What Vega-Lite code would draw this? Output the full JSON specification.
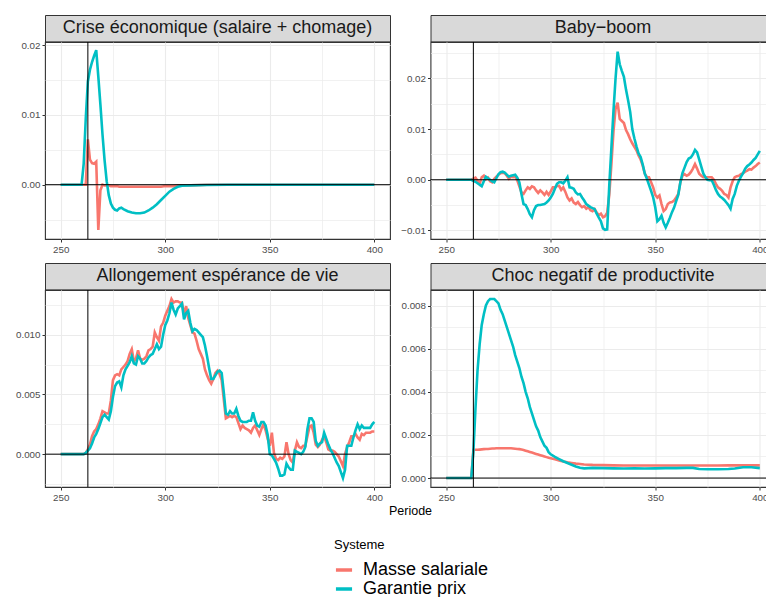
{
  "$schema": "https://vega.github.io/schema/vega-lite/v6.json",
  "padding": {"left": 14, "top": 14, "right": 0, "bottom": 0},
  "datasets": {
    "panels": [
      {"panel": "crise", "titre": "Crise économique (salaire + chomage)"},
      {"panel": "baby", "titre": "Baby−boom"},
      {"panel": "vie", "titre": "Allongement espérance de vie"},
      {"panel": "choc", "titre": "Choc negatif de productivite"}
    ],
    "series": [
      {"panel":"crise","periode":250,"Masse salariale":0,"Garantie prix":0},
      {"panel":"crise","periode":260,"Masse salariale":0,"Garantie prix":0},
      {"panel":"crise","periode":261,"Masse salariale":0,"Garantie prix":0.003},
      {"panel":"crise","periode":262,"Masse salariale":0,"Garantie prix":0.0095},
      {"panel":"crise","periode":263,"Masse salariale":0.0065,"Garantie prix":0.0148},
      {"panel":"crise","periode":264,"Masse salariale":0.0036,"Garantie prix":0.0165},
      {"panel":"crise","periode":265,"Masse salariale":0.0031,"Garantie prix":0.0176},
      {"panel":"crise","periode":266,"Masse salariale":0.003,"Garantie prix":0.0185},
      {"panel":"crise","periode":267,"Masse salariale":0.0033,"Garantie prix":0.0193},
      {"panel":"crise","periode":268,"Masse salariale":-0.0065,"Garantie prix":0.0155},
      {"panel":"crise","periode":269,"Masse salariale":-0.0008,"Garantie prix":0.0115},
      {"panel":"crise","periode":270,"Masse salariale":0,"Garantie prix":0.0072},
      {"panel":"crise","periode":271,"Masse salariale":-0.0001,"Garantie prix":0.0035},
      {"panel":"crise","periode":272,"Masse salariale":-0.0001,"Garantie prix":0.0005},
      {"panel":"crise","periode":273,"Masse salariale":-0.0001,"Garantie prix":-0.0015},
      {"panel":"crise","periode":274,"Masse salariale":-0.0002,"Garantie prix":-0.0027},
      {"panel":"crise","periode":275,"Masse salariale":-0.0002,"Garantie prix":-0.0033},
      {"panel":"crise","periode":276,"Masse salariale":-0.0002,"Garantie prix":-0.0036},
      {"panel":"crise","periode":277,"Masse salariale":-0.0002,"Garantie prix":-0.0037},
      {"panel":"crise","periode":278,"Masse salariale":-0.0003,"Garantie prix":-0.0034},
      {"panel":"crise","periode":279,"Masse salariale":-0.0003,"Garantie prix":-0.0033},
      {"panel":"crise","periode":280,"Masse salariale":-0.0003,"Garantie prix":-0.0035},
      {"panel":"crise","periode":282,"Masse salariale":-0.0003,"Garantie prix":-0.0038},
      {"panel":"crise","periode":284,"Masse salariale":-0.0003,"Garantie prix":-0.004},
      {"panel":"crise","periode":286,"Masse salariale":-0.0003,"Garantie prix":-0.0041},
      {"panel":"crise","periode":288,"Masse salariale":-0.0003,"Garantie prix":-0.0041},
      {"panel":"crise","periode":290,"Masse salariale":-0.0003,"Garantie prix":-0.004},
      {"panel":"crise","periode":292,"Masse salariale":-0.0003,"Garantie prix":-0.0037},
      {"panel":"crise","periode":294,"Masse salariale":-0.0003,"Garantie prix":-0.0033},
      {"panel":"crise","periode":296,"Masse salariale":-0.0003,"Garantie prix":-0.0028},
      {"panel":"crise","periode":298,"Masse salariale":-0.0003,"Garantie prix":-0.0022},
      {"panel":"crise","periode":300,"Masse salariale":-0.0002,"Garantie prix":-0.0016},
      {"panel":"crise","periode":302,"Masse salariale":-0.0002,"Garantie prix":-0.001},
      {"panel":"crise","periode":304,"Masse salariale":-0.0002,"Garantie prix":-0.0006},
      {"panel":"crise","periode":306,"Masse salariale":-0.0001,"Garantie prix":-0.0003},
      {"panel":"crise","periode":308,"Masse salariale":-0.0001,"Garantie prix":-0.00015},
      {"panel":"crise","periode":312,"Masse salariale":-0.0001,"Garantie prix":-0.0001},
      {"panel":"crise","periode":320,"Masse salariale":0,"Garantie prix":-0.00005},
      {"panel":"crise","periode":330,"Masse salariale":0,"Garantie prix":0},
      {"panel":"crise","periode":400,"Masse salariale":0,"Garantie prix":0},

      {"panel":"baby","periode":250,"Masse salariale":0,"Garantie prix":0},
      {"panel":"baby","periode":262,"Masse salariale":0,"Garantie prix":0},
      {"panel":"baby","periode":263,"Masse salariale":0.0002,"Garantie prix":-0.0002},
      {"panel":"baby","periode":264,"Masse salariale":0.0004,"Garantie prix":-0.0004},
      {"panel":"baby","periode":265,"Masse salariale":-0.0002,"Garantie prix":-0.0007},
      {"panel":"baby","periode":266,"Masse salariale":-0.0008,"Garantie prix":-0.001},
      {"panel":"baby","periode":267,"Masse salariale":0.0005,"Garantie prix":-0.0013},
      {"panel":"baby","periode":268,"Masse salariale":0.0008,"Garantie prix":-0.0003},
      {"panel":"baby","periode":269,"Masse salariale":0.0001,"Garantie prix":0.0006},
      {"panel":"baby","periode":270,"Masse salariale":0.0004,"Garantie prix":0.0003},
      {"panel":"baby","periode":271,"Masse salariale":-0.0003,"Garantie prix":0},
      {"panel":"baby","periode":272,"Masse salariale":-0.0005,"Garantie prix":-0.0003},
      {"panel":"baby","periode":273,"Masse salariale":0.0002,"Garantie prix":-0.0005},
      {"panel":"baby","periode":274,"Masse salariale":0.0006,"Garantie prix":0.0003},
      {"panel":"baby","periode":275,"Masse salariale":0.001,"Garantie prix":0.0011},
      {"panel":"baby","periode":276,"Masse salariale":0.0013,"Garantie prix":0.0015},
      {"panel":"baby","periode":277,"Masse salariale":0.0014,"Garantie prix":0.0016},
      {"panel":"baby","periode":278,"Masse salariale":0.0013,"Garantie prix":0.0014},
      {"panel":"baby","periode":279,"Masse salariale":0.0008,"Garantie prix":0.001},
      {"panel":"baby","periode":280,"Masse salariale":0.0002,"Garantie prix":0.0006},
      {"panel":"baby","periode":281,"Masse salariale":0.0006,"Garantie prix":0.0008},
      {"panel":"baby","periode":282,"Masse salariale":0.0005,"Garantie prix":0.0009},
      {"panel":"baby","periode":283,"Masse salariale":0.0006,"Garantie prix":0.001},
      {"panel":"baby","periode":284,"Masse salariale":-0.0001,"Garantie prix":0.0004},
      {"panel":"baby","periode":285,"Masse salariale":-0.0013,"Garantie prix":-0.0005},
      {"panel":"baby","periode":286,"Masse salariale":-0.0025,"Garantie prix":-0.0028},
      {"panel":"baby","periode":287,"Masse salariale":-0.0028,"Garantie prix":-0.0048},
      {"panel":"baby","periode":288,"Masse salariale":-0.0021,"Garantie prix":-0.005},
      {"panel":"baby","periode":289,"Masse salariale":-0.0015,"Garantie prix":-0.0058},
      {"panel":"baby","periode":290,"Masse salariale":-0.0018,"Garantie prix":-0.0068},
      {"panel":"baby","periode":291,"Masse salariale":-0.0013,"Garantie prix":-0.0074},
      {"panel":"baby","periode":292,"Masse salariale":-0.0015,"Garantie prix":-0.006},
      {"panel":"baby","periode":293,"Masse salariale":-0.0021,"Garantie prix":-0.0052},
      {"panel":"baby","periode":294,"Masse salariale":-0.0026,"Garantie prix":-0.005},
      {"panel":"baby","periode":295,"Masse salariale":-0.0021,"Garantie prix":-0.005},
      {"panel":"baby","periode":296,"Masse salariale":-0.0025,"Garantie prix":-0.0049},
      {"panel":"baby","periode":297,"Masse salariale":-0.003,"Garantie prix":-0.0048},
      {"panel":"baby","periode":298,"Masse salariale":-0.0024,"Garantie prix":-0.0045},
      {"panel":"baby","periode":299,"Masse salariale":-0.003,"Garantie prix":-0.0041},
      {"panel":"baby","periode":300,"Masse salariale":-0.0023,"Garantie prix":-0.0035},
      {"panel":"baby","periode":301,"Masse salariale":-0.0015,"Garantie prix":-0.0028},
      {"panel":"baby","periode":302,"Masse salariale":-0.0015,"Garantie prix":-0.0018},
      {"panel":"baby","periode":303,"Masse salariale":-0.0012,"Garantie prix":-0.0008},
      {"panel":"baby","periode":304,"Masse salariale":-0.0012,"Garantie prix":-0.0005},
      {"panel":"baby","periode":305,"Masse salariale":-0.002,"Garantie prix":-0.0005},
      {"panel":"baby","periode":306,"Masse salariale":-0.0015,"Garantie prix":-0.0007},
      {"panel":"baby","periode":307,"Masse salariale":-0.0024,"Garantie prix":-0.0002},
      {"panel":"baby","periode":308,"Masse salariale":-0.0035,"Garantie prix":0.0005},
      {"panel":"baby","periode":309,"Masse salariale":-0.0041,"Garantie prix":-0.0015},
      {"panel":"baby","periode":310,"Masse salariale":-0.0037,"Garantie prix":-0.0016},
      {"panel":"baby","periode":311,"Masse salariale":-0.0045,"Garantie prix":-0.0018},
      {"panel":"baby","periode":312,"Masse salariale":-0.0048,"Garantie prix":-0.0025},
      {"panel":"baby","periode":313,"Masse salariale":-0.0044,"Garantie prix":-0.0029},
      {"panel":"baby","periode":314,"Masse salariale":-0.005,"Garantie prix":-0.0028},
      {"panel":"baby","periode":315,"Masse salariale":-0.0054,"Garantie prix":-0.0035},
      {"panel":"baby","periode":316,"Masse salariale":-0.0052,"Garantie prix":-0.0041},
      {"panel":"baby","periode":317,"Masse salariale":-0.0057,"Garantie prix":-0.0048},
      {"panel":"baby","periode":318,"Masse salariale":-0.0054,"Garantie prix":-0.0051},
      {"panel":"baby","periode":319,"Masse salariale":-0.006,"Garantie prix":-0.0054},
      {"panel":"baby","periode":320,"Masse salariale":-0.0062,"Garantie prix":-0.0056},
      {"panel":"baby","periode":321,"Masse salariale":-0.0058,"Garantie prix":-0.0058},
      {"panel":"baby","periode":322,"Masse salariale":-0.0065,"Garantie prix":-0.0067},
      {"panel":"baby","periode":323,"Masse salariale":-0.007,"Garantie prix":-0.0075},
      {"panel":"baby","periode":324,"Masse salariale":-0.0067,"Garantie prix":-0.0082},
      {"panel":"baby","periode":325,"Masse salariale":-0.0074,"Garantie prix":-0.0096},
      {"panel":"baby","periode":326,"Masse salariale":-0.0072,"Garantie prix":-0.0099},
      {"panel":"baby","periode":327,"Masse salariale":-0.0065,"Garantie prix":-0.0098},
      {"panel":"baby","periode":328,"Masse salariale":-0.003,"Garantie prix":-0.0011},
      {"panel":"baby","periode":329,"Masse salariale":0.003,"Garantie prix":0.0062},
      {"panel":"baby","periode":330,"Masse salariale":0.0095,"Garantie prix":0.0135},
      {"panel":"baby","periode":331,"Masse salariale":0.014,"Garantie prix":0.02},
      {"panel":"baby","periode":332,"Masse salariale":0.0152,"Garantie prix":0.0253},
      {"panel":"baby","periode":333,"Masse salariale":0.012,"Garantie prix":0.0228},
      {"panel":"baby","periode":334,"Masse salariale":0.0116,"Garantie prix":0.0215},
      {"panel":"baby","periode":335,"Masse salariale":0.0112,"Garantie prix":0.0203},
      {"panel":"baby","periode":336,"Masse salariale":0.0098,"Garantie prix":0.0178},
      {"panel":"baby","periode":337,"Masse salariale":0.009,"Garantie prix":0.0157},
      {"panel":"baby","periode":338,"Masse salariale":0.008,"Garantie prix":0.0134},
      {"panel":"baby","periode":339,"Masse salariale":0.0072,"Garantie prix":0.01},
      {"panel":"baby","periode":340,"Masse salariale":0.0065,"Garantie prix":0.0082},
      {"panel":"baby","periode":341,"Masse salariale":0.0058,"Garantie prix":0.0066},
      {"panel":"baby","periode":342,"Masse salariale":0.0048,"Garantie prix":0.0052},
      {"panel":"baby","periode":343,"Masse salariale":0.004,"Garantie prix":0.0045},
      {"panel":"baby","periode":344,"Masse salariale":0.0028,"Garantie prix":0.003},
      {"panel":"baby","periode":345,"Masse salariale":0.0012,"Garantie prix":0.0012},
      {"panel":"baby","periode":346,"Masse salariale":0.0005,"Garantie prix":0.0002},
      {"panel":"baby","periode":347,"Masse salariale":0.0005,"Garantie prix":-0.001},
      {"panel":"baby","periode":348,"Masse salariale":-0.0005,"Garantie prix":-0.0022},
      {"panel":"baby","periode":349,"Masse salariale":-0.0015,"Garantie prix":-0.0035},
      {"panel":"baby","periode":350,"Masse salariale":-0.003,"Garantie prix":-0.0055},
      {"panel":"baby","periode":351,"Masse salariale":-0.0035,"Garantie prix":-0.0082},
      {"panel":"baby","periode":352,"Masse salariale":-0.0031,"Garantie prix":-0.0078},
      {"panel":"baby","periode":353,"Masse salariale":-0.0048,"Garantie prix":-0.0071},
      {"panel":"baby","periode":354,"Masse salariale":-0.0062,"Garantie prix":-0.0085},
      {"panel":"baby","periode":355,"Masse salariale":-0.0058,"Garantie prix":-0.0094},
      {"panel":"baby","periode":356,"Masse salariale":-0.0048,"Garantie prix":-0.0085},
      {"panel":"baby","periode":357,"Masse salariale":-0.0045,"Garantie prix":-0.0075},
      {"panel":"baby","periode":358,"Masse salariale":-0.0044,"Garantie prix":-0.0064},
      {"panel":"baby","periode":359,"Masse salariale":-0.0041,"Garantie prix":-0.0055},
      {"panel":"baby","periode":360,"Masse salariale":-0.0035,"Garantie prix":-0.0042},
      {"panel":"baby","periode":361,"Masse salariale":-0.0028,"Garantie prix":-0.003},
      {"panel":"baby","periode":362,"Masse salariale":-0.0005,"Garantie prix":-0.0005},
      {"panel":"baby","periode":363,"Masse salariale":0.0008,"Garantie prix":0.0013},
      {"panel":"baby","periode":364,"Masse salariale":0.0011,"Garantie prix":0.0024},
      {"panel":"baby","periode":365,"Masse salariale":0.0008,"Garantie prix":0.0035},
      {"panel":"baby","periode":366,"Masse salariale":0.001,"Garantie prix":0.0042},
      {"panel":"baby","periode":367,"Masse salariale":0.0015,"Garantie prix":0.0044},
      {"panel":"baby","periode":368,"Masse salariale":0.0022,"Garantie prix":0.005},
      {"panel":"baby","periode":369,"Masse salariale":0.0031,"Garantie prix":0.0059},
      {"panel":"baby","periode":370,"Masse salariale":0.0022,"Garantie prix":0.0054},
      {"panel":"baby","periode":371,"Masse salariale":0.0012,"Garantie prix":0.004},
      {"panel":"baby","periode":372,"Masse salariale":0.0008,"Garantie prix":0.0026},
      {"panel":"baby","periode":373,"Masse salariale":0.0005,"Garantie prix":0.0012},
      {"panel":"baby","periode":374,"Masse salariale":0.0005,"Garantie prix":0.0005},
      {"panel":"baby","periode":375,"Masse salariale":0.0005,"Garantie prix":0},
      {"panel":"baby","periode":376,"Masse salariale":0.0005,"Garantie prix":-0.0001},
      {"panel":"baby","periode":377,"Masse salariale":0.0005,"Garantie prix":-0.0001},
      {"panel":"baby","periode":378,"Masse salariale":0,"Garantie prix":-0.001},
      {"panel":"baby","periode":379,"Masse salariale":-0.0008,"Garantie prix":-0.002},
      {"panel":"baby","periode":380,"Masse salariale":-0.0015,"Garantie prix":-0.0028},
      {"panel":"baby","periode":381,"Masse salariale":-0.0018,"Garantie prix":-0.0033},
      {"panel":"baby","periode":382,"Masse salariale":-0.0022,"Garantie prix":-0.0036},
      {"panel":"baby","periode":383,"Masse salariale":-0.0028,"Garantie prix":-0.004},
      {"panel":"baby","periode":384,"Masse salariale":-0.003,"Garantie prix":-0.0045},
      {"panel":"baby","periode":385,"Masse salariale":-0.0035,"Garantie prix":-0.005},
      {"panel":"baby","periode":386,"Masse salariale":-0.0015,"Garantie prix":-0.0057},
      {"panel":"baby","periode":387,"Masse salariale":-0.0003,"Garantie prix":-0.0038},
      {"panel":"baby","periode":388,"Masse salariale":0.0005,"Garantie prix":-0.0028},
      {"panel":"baby","periode":389,"Masse salariale":0.0007,"Garantie prix":-0.0012},
      {"panel":"baby","periode":390,"Masse salariale":0.0008,"Garantie prix":-0.0002},
      {"panel":"baby","periode":391,"Masse salariale":0.0011,"Garantie prix":0.0006},
      {"panel":"baby","periode":392,"Masse salariale":0.0013,"Garantie prix":0.0013},
      {"panel":"baby","periode":393,"Masse salariale":0.0016,"Garantie prix":0.0022},
      {"panel":"baby","periode":394,"Masse salariale":0.0018,"Garantie prix":0.0027},
      {"panel":"baby","periode":395,"Masse salariale":0.0021,"Garantie prix":0.003},
      {"panel":"baby","periode":396,"Masse salariale":0.002,"Garantie prix":0.0034},
      {"panel":"baby","periode":397,"Masse salariale":0.0024,"Garantie prix":0.0039},
      {"panel":"baby","periode":398,"Masse salariale":0.0027,"Garantie prix":0.0043},
      {"panel":"baby","periode":399,"Masse salariale":0.0031,"Garantie prix":0.005},
      {"panel":"baby","periode":400,"Masse salariale":0.0034,"Garantie prix":0.0057},

      {"panel":"vie","periode":250,"Masse salariale":0,"Garantie prix":0},
      {"panel":"vie","periode":261,"Masse salariale":0,"Garantie prix":0},
      {"panel":"vie","periode":262,"Masse salariale":0.0001,"Garantie prix":0.0001},
      {"panel":"vie","periode":263,"Masse salariale":0.0004,"Garantie prix":0.0003},
      {"panel":"vie","periode":264,"Masse salariale":0.0008,"Garantie prix":0.0005},
      {"panel":"vie","periode":265,"Masse salariale":0.0015,"Garantie prix":0.0009},
      {"panel":"vie","periode":266,"Masse salariale":0.0019,"Garantie prix":0.0014},
      {"panel":"vie","periode":267,"Masse salariale":0.0021,"Garantie prix":0.0017},
      {"panel":"vie","periode":268,"Masse salariale":0.0025,"Garantie prix":0.0021},
      {"panel":"vie","periode":269,"Masse salariale":0.003,"Garantie prix":0.0026},
      {"panel":"vie","periode":270,"Masse salariale":0.0036,"Garantie prix":0.0031},
      {"panel":"vie","periode":271,"Masse salariale":0.0035,"Garantie prix":0.0033},
      {"panel":"vie","periode":272,"Masse salariale":0.0034,"Garantie prix":0.0031},
      {"panel":"vie","periode":273,"Masse salariale":0.0034,"Garantie prix":0.0029},
      {"panel":"vie","periode":274,"Masse salariale":0.0045,"Garantie prix":0.0036},
      {"panel":"vie","periode":275,"Masse salariale":0.0062,"Garantie prix":0.0048},
      {"panel":"vie","periode":276,"Masse salariale":0.0066,"Garantie prix":0.0057},
      {"panel":"vie","periode":277,"Masse salariale":0.0067,"Garantie prix":0.006},
      {"panel":"vie","periode":278,"Masse salariale":0.0066,"Garantie prix":0.0061},
      {"panel":"vie","periode":279,"Masse salariale":0.0071,"Garantie prix":0.0056},
      {"panel":"vie","periode":280,"Masse salariale":0.0073,"Garantie prix":0.0066},
      {"panel":"vie","periode":281,"Masse salariale":0.0075,"Garantie prix":0.0071},
      {"panel":"vie","periode":282,"Masse salariale":0.0078,"Garantie prix":0.0074},
      {"panel":"vie","periode":283,"Masse salariale":0.0084,"Garantie prix":0.0077},
      {"panel":"vie","periode":284,"Masse salariale":0.0088,"Garantie prix":0.0082},
      {"panel":"vie","periode":285,"Masse salariale":0.0078,"Garantie prix":0.0076},
      {"panel":"vie","periode":286,"Masse salariale":0.008,"Garantie prix":0.0075},
      {"panel":"vie","periode":287,"Masse salariale":0.0087,"Garantie prix":0.0082},
      {"panel":"vie","periode":288,"Masse salariale":0.008,"Garantie prix":0.008},
      {"panel":"vie","periode":289,"Masse salariale":0.0079,"Garantie prix":0.0076},
      {"panel":"vie","periode":290,"Masse salariale":0.008,"Garantie prix":0.0076},
      {"panel":"vie","periode":291,"Masse salariale":0.0082,"Garantie prix":0.0078},
      {"panel":"vie","periode":292,"Masse salariale":0.0087,"Garantie prix":0.0081},
      {"panel":"vie","periode":293,"Masse salariale":0.0088,"Garantie prix":0.0083},
      {"panel":"vie","periode":294,"Masse salariale":0.009,"Garantie prix":0.0084},
      {"panel":"vie","periode":295,"Masse salariale":0.0102,"Garantie prix":0.0088},
      {"panel":"vie","periode":296,"Masse salariale":0.0098,"Garantie prix":0.0092},
      {"panel":"vie","periode":297,"Masse salariale":0.0095,"Garantie prix":0.0088},
      {"panel":"vie","periode":298,"Masse salariale":0.0107,"Garantie prix":0.009},
      {"panel":"vie","periode":299,"Masse salariale":0.011,"Garantie prix":0.01},
      {"panel":"vie","periode":300,"Masse salariale":0.0116,"Garantie prix":0.0108},
      {"panel":"vie","periode":301,"Masse salariale":0.012,"Garantie prix":0.0112},
      {"panel":"vie","periode":302,"Masse salariale":0.0124,"Garantie prix":0.0118},
      {"panel":"vie","periode":303,"Masse salariale":0.013,"Garantie prix":0.0127},
      {"panel":"vie","periode":304,"Masse salariale":0.0127,"Garantie prix":0.0121},
      {"panel":"vie","periode":305,"Masse salariale":0.0128,"Garantie prix":0.0117},
      {"panel":"vie","periode":306,"Masse salariale":0.0128,"Garantie prix":0.0122},
      {"panel":"vie","periode":307,"Masse salariale":0.0127,"Garantie prix":0.0124},
      {"panel":"vie","periode":308,"Masse salariale":0.0127,"Garantie prix":0.0126},
      {"panel":"vie","periode":309,"Masse salariale":0.0117,"Garantie prix":0.0113},
      {"panel":"vie","periode":310,"Masse salariale":0.0124,"Garantie prix":0.0118},
      {"panel":"vie","periode":311,"Masse salariale":0.0114,"Garantie prix":0.012},
      {"panel":"vie","periode":312,"Masse salariale":0.0108,"Garantie prix":0.011},
      {"panel":"vie","periode":313,"Masse salariale":0.0102,"Garantie prix":0.0103},
      {"panel":"vie","periode":314,"Masse salariale":0.0101,"Garantie prix":0.0105},
      {"panel":"vie","periode":315,"Masse salariale":0.0095,"Garantie prix":0.0104},
      {"panel":"vie","periode":316,"Masse salariale":0.0088,"Garantie prix":0.0102},
      {"panel":"vie","periode":317,"Masse salariale":0.0084,"Garantie prix":0.01},
      {"panel":"vie","periode":318,"Masse salariale":0.008,"Garantie prix":0.0098},
      {"panel":"vie","periode":319,"Masse salariale":0.0071,"Garantie prix":0.0091},
      {"panel":"vie","periode":320,"Masse salariale":0.0066,"Garantie prix":0.0082},
      {"panel":"vie","periode":321,"Masse salariale":0.0062,"Garantie prix":0.0072},
      {"panel":"vie","periode":322,"Masse salariale":0.0059,"Garantie prix":0.0063},
      {"panel":"vie","periode":323,"Masse salariale":0.0063,"Garantie prix":0.0063},
      {"panel":"vie","periode":324,"Masse salariale":0.0068,"Garantie prix":0.0066},
      {"panel":"vie","periode":325,"Masse salariale":0.007,"Garantie prix":0.0069},
      {"panel":"vie","periode":326,"Masse salariale":0.0067,"Garantie prix":0.007},
      {"panel":"vie","periode":327,"Masse salariale":0.0062,"Garantie prix":0.0068},
      {"panel":"vie","periode":328,"Masse salariale":0.0046,"Garantie prix":0.0052},
      {"panel":"vie","periode":329,"Masse salariale":0.003,"Garantie prix":0.0034},
      {"panel":"vie","periode":330,"Masse salariale":0.0031,"Garantie prix":0.0033},
      {"panel":"vie","periode":331,"Masse salariale":0.0032,"Garantie prix":0.0036},
      {"panel":"vie","periode":332,"Masse salariale":0.0031,"Garantie prix":0.0034},
      {"panel":"vie","periode":333,"Masse salariale":0.0032,"Garantie prix":0.0034},
      {"panel":"vie","periode":334,"Masse salariale":0.0031,"Garantie prix":0.0038},
      {"panel":"vie","periode":335,"Masse salariale":0.0026,"Garantie prix":0.0032},
      {"panel":"vie","periode":336,"Masse salariale":0.0021,"Garantie prix":0.0028},
      {"panel":"vie","periode":337,"Masse salariale":0.0024,"Garantie prix":0.0027},
      {"panel":"vie","periode":338,"Masse salariale":0.0022,"Garantie prix":0.0027},
      {"panel":"vie","periode":339,"Masse salariale":0.0021,"Garantie prix":0.0027},
      {"panel":"vie","periode":340,"Masse salariale":0.002,"Garantie prix":0.0028},
      {"panel":"vie","periode":341,"Masse salariale":0.0018,"Garantie prix":0.0028},
      {"panel":"vie","periode":342,"Masse salariale":0.0022,"Garantie prix":0.0035},
      {"panel":"vie","periode":343,"Masse salariale":0.0024,"Garantie prix":0.0028},
      {"panel":"vie","periode":344,"Masse salariale":0.002,"Garantie prix":0.0024},
      {"panel":"vie","periode":345,"Masse salariale":0.0016,"Garantie prix":0.0023},
      {"panel":"vie","periode":346,"Masse salariale":0.0021,"Garantie prix":0.0027},
      {"panel":"vie","periode":347,"Masse salariale":0.0025,"Garantie prix":0.0027},
      {"panel":"vie","periode":348,"Masse salariale":0.002,"Garantie prix":0.0024},
      {"panel":"vie","periode":349,"Masse salariale":0.0013,"Garantie prix":0.0016},
      {"panel":"vie","periode":350,"Masse salariale":0.0007,"Garantie prix":0},
      {"panel":"vie","periode":351,"Masse salariale":0.0018,"Garantie prix":-0.0001},
      {"panel":"vie","periode":352,"Masse salariale":0.0001,"Garantie prix":-0.0004},
      {"panel":"vie","periode":353,"Masse salariale":-0.0004,"Garantie prix":-0.0007},
      {"panel":"vie","periode":354,"Masse salariale":-0.0005,"Garantie prix":-0.0012},
      {"panel":"vie","periode":355,"Masse salariale":-0.0003,"Garantie prix":-0.0018},
      {"panel":"vie","periode":356,"Masse salariale":-0.0004,"Garantie prix":-0.0018},
      {"panel":"vie","periode":357,"Masse salariale":-0.0002,"Garantie prix":-0.0017},
      {"panel":"vie","periode":358,"Masse salariale":0.001,"Garantie prix":-0.0008},
      {"panel":"vie","periode":359,"Masse salariale":0,"Garantie prix":-0.0011},
      {"panel":"vie","periode":360,"Masse salariale":-0.0005,"Garantie prix":-0.0013},
      {"panel":"vie","periode":361,"Masse salariale":-0.0007,"Garantie prix":-0.0013},
      {"panel":"vie","periode":362,"Masse salariale":0.0003,"Garantie prix":0.0003},
      {"panel":"vie","periode":363,"Masse salariale":0.001,"Garantie prix":0.0002},
      {"panel":"vie","periode":364,"Masse salariale":0.0006,"Garantie prix":0.0001},
      {"panel":"vie","periode":365,"Masse salariale":0.0005,"Garantie prix":0},
      {"panel":"vie","periode":366,"Masse salariale":0.0007,"Garantie prix":0.0002},
      {"panel":"vie","periode":367,"Masse salariale":0.0007,"Garantie prix":0.0006},
      {"panel":"vie","periode":368,"Masse salariale":0.0015,"Garantie prix":0.0021},
      {"panel":"vie","periode":369,"Masse salariale":0.0023,"Garantie prix":0.003},
      {"panel":"vie","periode":370,"Masse salariale":0.0024,"Garantie prix":0.003},
      {"panel":"vie","periode":371,"Masse salariale":0.0018,"Garantie prix":0.0027},
      {"panel":"vie","periode":372,"Masse salariale":0.0008,"Garantie prix":0.0011},
      {"panel":"vie","periode":373,"Masse salariale":0.0006,"Garantie prix":0.0007},
      {"panel":"vie","periode":374,"Masse salariale":0.0008,"Garantie prix":0.0009},
      {"panel":"vie","periode":375,"Masse salariale":0.0012,"Garantie prix":0.001},
      {"panel":"vie","periode":376,"Masse salariale":0.0015,"Garantie prix":0.0018},
      {"panel":"vie","periode":377,"Masse salariale":0.001,"Garantie prix":0.0013},
      {"panel":"vie","periode":378,"Masse salariale":0.0004,"Garantie prix":0.0008},
      {"panel":"vie","periode":379,"Masse salariale":0.0003,"Garantie prix":0.0004},
      {"panel":"vie","periode":380,"Masse salariale":0.0003,"Garantie prix":0.0001},
      {"panel":"vie","periode":381,"Masse salariale":0.0002,"Garantie prix":-0.0003},
      {"panel":"vie","periode":382,"Masse salariale":0,"Garantie prix":-0.0007},
      {"panel":"vie","periode":383,"Masse salariale":-0.0002,"Garantie prix":-0.001},
      {"panel":"vie","periode":384,"Masse salariale":-0.0006,"Garantie prix":-0.0015},
      {"panel":"vie","periode":385,"Masse salariale":-0.001,"Garantie prix":-0.002},
      {"panel":"vie","periode":386,"Masse salariale":0,"Garantie prix":-0.0013},
      {"panel":"vie","periode":387,"Masse salariale":0.0006,"Garantie prix":0.0007},
      {"panel":"vie","periode":388,"Masse salariale":0.001,"Garantie prix":0.0007},
      {"panel":"vie","periode":389,"Masse salariale":0.0015,"Garantie prix":0.0007},
      {"panel":"vie","periode":390,"Masse salariale":0.0015,"Garantie prix":0.0014},
      {"panel":"vie","periode":391,"Masse salariale":0.0017,"Garantie prix":0.002},
      {"panel":"vie","periode":392,"Masse salariale":0.0014,"Garantie prix":0.0025},
      {"panel":"vie","periode":393,"Masse salariale":0.0012,"Garantie prix":0.0021},
      {"panel":"vie","periode":394,"Masse salariale":0.0017,"Garantie prix":0.0024},
      {"panel":"vie","periode":395,"Masse salariale":0.0016,"Garantie prix":0.0022},
      {"panel":"vie","periode":396,"Masse salariale":0.0018,"Garantie prix":0.0022},
      {"panel":"vie","periode":397,"Masse salariale":0.0018,"Garantie prix":0.0022},
      {"panel":"vie","periode":398,"Masse salariale":0.0018,"Garantie prix":0.0022},
      {"panel":"vie","periode":399,"Masse salariale":0.0019,"Garantie prix":0.0025},
      {"panel":"vie","periode":400,"Masse salariale":0.0019,"Garantie prix":0.0027},

      {"panel":"choc","periode":250,"Masse salariale":0,"Garantie prix":0},
      {"panel":"choc","periode":262,"Masse salariale":0,"Garantie prix":0},
      {"panel":"choc","periode":263,"Masse salariale":0.0013,"Garantie prix":0.0012},
      {"panel":"choc","periode":264,"Masse salariale":0.00131,"Garantie prix":0.0032},
      {"panel":"choc","periode":265,"Masse salariale":0.00131,"Garantie prix":0.005},
      {"panel":"choc","periode":266,"Masse salariale":0.00132,"Garantie prix":0.0062},
      {"panel":"choc","periode":267,"Masse salariale":0.00133,"Garantie prix":0.0071},
      {"panel":"choc","periode":268,"Masse salariale":0.00134,"Garantie prix":0.0076},
      {"panel":"choc","periode":269,"Masse salariale":0.00135,"Garantie prix":0.008},
      {"panel":"choc","periode":270,"Masse salariale":0.00135,"Garantie prix":0.0082},
      {"panel":"choc","periode":271,"Masse salariale":0.00136,"Garantie prix":0.0083},
      {"panel":"choc","periode":272,"Masse salariale":0.00137,"Garantie prix":0.0083},
      {"panel":"choc","periode":273,"Masse salariale":0.00137,"Garantie prix":0.0083},
      {"panel":"choc","periode":274,"Masse salariale":0.00138,"Garantie prix":0.0082},
      {"panel":"choc","periode":275,"Masse salariale":0.00138,"Garantie prix":0.0081},
      {"panel":"choc","periode":276,"Masse salariale":0.00138,"Garantie prix":0.0078},
      {"panel":"choc","periode":277,"Masse salariale":0.00138,"Garantie prix":0.0076},
      {"panel":"choc","periode":278,"Masse salariale":0.00138,"Garantie prix":0.0073},
      {"panel":"choc","periode":279,"Masse salariale":0.00138,"Garantie prix":0.007},
      {"panel":"choc","periode":280,"Masse salariale":0.00138,"Garantie prix":0.0067},
      {"panel":"choc","periode":281,"Masse salariale":0.00138,"Garantie prix":0.0064},
      {"panel":"choc","periode":282,"Masse salariale":0.00137,"Garantie prix":0.0061},
      {"panel":"choc","periode":283,"Masse salariale":0.00136,"Garantie prix":0.0057},
      {"panel":"choc","periode":284,"Masse salariale":0.00135,"Garantie prix":0.0054},
      {"panel":"choc","periode":285,"Masse salariale":0.00134,"Garantie prix":0.0051},
      {"panel":"choc","periode":286,"Masse salariale":0.00132,"Garantie prix":0.0047},
      {"panel":"choc","periode":287,"Masse salariale":0.0013,"Garantie prix":0.0044},
      {"panel":"choc","periode":288,"Masse salariale":0.00127,"Garantie prix":0.004},
      {"panel":"choc","periode":289,"Masse salariale":0.00124,"Garantie prix":0.0037},
      {"panel":"choc","periode":290,"Masse salariale":0.00121,"Garantie prix":0.0033},
      {"panel":"choc","periode":291,"Masse salariale":0.00118,"Garantie prix":0.003},
      {"panel":"choc","periode":292,"Masse salariale":0.00115,"Garantie prix":0.0027},
      {"panel":"choc","periode":293,"Masse salariale":0.00112,"Garantie prix":0.0024},
      {"panel":"choc","periode":294,"Masse salariale":0.00109,"Garantie prix":0.0022},
      {"panel":"choc","periode":295,"Masse salariale":0.00106,"Garantie prix":0.0019},
      {"panel":"choc","periode":296,"Masse salariale":0.00103,"Garantie prix":0.0017},
      {"panel":"choc","periode":297,"Masse salariale":0.001,"Garantie prix":0.0015},
      {"panel":"choc","periode":298,"Masse salariale":0.00097,"Garantie prix":0.0014},
      {"panel":"choc","periode":299,"Masse salariale":0.00094,"Garantie prix":0.0012},
      {"panel":"choc","periode":300,"Masse salariale":0.00092,"Garantie prix":0.0011},
      {"panel":"choc","periode":302,"Masse salariale":0.00087,"Garantie prix":0.00098},
      {"panel":"choc","periode":304,"Masse salariale":0.00082,"Garantie prix":0.00088},
      {"panel":"choc","periode":306,"Masse salariale":0.00077,"Garantie prix":0.00078},
      {"panel":"choc","periode":308,"Masse salariale":0.00073,"Garantie prix":0.0007},
      {"panel":"choc","periode":310,"Masse salariale":0.0007,"Garantie prix":0.00062},
      {"panel":"choc","periode":312,"Masse salariale":0.00067,"Garantie prix":0.00054},
      {"panel":"choc","periode":314,"Masse salariale":0.00065,"Garantie prix":0.00048},
      {"panel":"choc","periode":316,"Masse salariale":0.00063,"Garantie prix":0.00045},
      {"panel":"choc","periode":320,"Masse salariale":0.00061,"Garantie prix":0.00047},
      {"panel":"choc","periode":325,"Masse salariale":0.0006,"Garantie prix":0.00046},
      {"panel":"choc","periode":330,"Masse salariale":0.00059,"Garantie prix":0.00045},
      {"panel":"choc","periode":335,"Masse salariale":0.00058,"Garantie prix":0.00044},
      {"panel":"choc","periode":340,"Masse salariale":0.00058,"Garantie prix":0.00045},
      {"panel":"choc","periode":345,"Masse salariale":0.00058,"Garantie prix":0.00044},
      {"panel":"choc","periode":350,"Masse salariale":0.00058,"Garantie prix":0.00045},
      {"panel":"choc","periode":355,"Masse salariale":0.00058,"Garantie prix":0.00046},
      {"panel":"choc","periode":360,"Masse salariale":0.00058,"Garantie prix":0.00046},
      {"panel":"choc","periode":365,"Masse salariale":0.00058,"Garantie prix":0.00047},
      {"panel":"choc","periode":368,"Masse salariale":0.00058,"Garantie prix":0.00047},
      {"panel":"choc","periode":371,"Masse salariale":0.00058,"Garantie prix":0.00042},
      {"panel":"choc","periode":375,"Masse salariale":0.00058,"Garantie prix":0.00041},
      {"panel":"choc","periode":380,"Masse salariale":0.00058,"Garantie prix":0.00041},
      {"panel":"choc","periode":385,"Masse salariale":0.00059,"Garantie prix":0.00042},
      {"panel":"choc","periode":388,"Masse salariale":0.00059,"Garantie prix":0.00044},
      {"panel":"choc","periode":392,"Masse salariale":0.00059,"Garantie prix":0.0005},
      {"panel":"choc","periode":396,"Masse salariale":0.00059,"Garantie prix":0.0005},
      {"panel":"choc","periode":400,"Masse salariale":0.00059,"Garantie prix":0.00046}
    ]
  },
  "columns": 2,
  "spacing": {"row": 0, "column": 40.5},
  "bounds": "flush",
  "concat": [
    {
      "width": 345, "height": 26.5,
      "data": {"name": "panels"},
      "transform": [{"filter": "datum.panel === 'crise'"}],
      "mark": {"type": "text", "fontSize": 18, "color": "#1A1A1A"},
      "encoding": {"text": {"field": "titre"}},
      "view": {"fill": "#D9D9D9", "stroke": "#333333"}
    },
    {
      "width": 345, "height": 26.5,
      "data": {"name": "panels"},
      "transform": [{"filter": "datum.panel === 'baby'"}],
      "mark": {"type": "text", "fontSize": 18, "color": "#1A1A1A"},
      "encoding": {"text": {"field": "titre"}},
      "view": {"fill": "#D9D9D9", "stroke": "#333333"}
    },
    {
      "width": 345, "height": 197,
      "layer": [
        {
          "data": {"name": "series"},
          "transform": [
            {"filter": "datum.panel === 'crise'"},
            {"fold": ["Masse salariale", "Garantie prix"], "as": ["systeme", "valeur"]}
          ],
          "mark": {"type": "line", "strokeWidth": 2.6},
          "encoding": {
            "x": {"field": "periode", "type": "quantitative", "scale": {"domain": [242.5, 407.5], "nice": false, "zero": false}, "axis": {"values": [250, 300, 350, 400], "title": null}},
            "y": {"field": "valeur", "type": "quantitative", "scale": {"domain": [-0.00779, 0.02047], "nice": false, "zero": false}, "axis": {"values": [0, 0.01, 0.02], "format": ".2f", "title": null}},
            "color": {"field": "systeme", "type": "nominal", "scale": {"domain": ["Masse salariale", "Garantie prix"], "range": ["#F8766D", "#00BFC4"]}, "legend": {"title": "Systeme", "orient": "none", "legendX": 289, "legendY": 524, "direction": "vertical"}}
          }
        },
        {
          "data": {"values": [{}]},
          "mark": {"type": "rule", "color": "black", "strokeWidth": 1},
          "encoding": {"x": {"datum": 263, "type": "quantitative", "axis": {"orient": "top", "values": [275, 325, 375], "grid": true, "gridWidth": 0.7, "labels": false, "ticks": false, "domain": false, "title": null}}}
        },
        {
          "data": {"values": [{}]},
          "mark": {"type": "rule", "color": "black", "strokeWidth": 1},
          "encoding": {"y": {"datum": 0, "type": "quantitative", "axis": {"orient": "right", "values": [-0.005, 0.005, 0.015], "grid": true, "gridWidth": 0.7, "labels": false, "ticks": false, "domain": false, "title": null}}}
        }
      ],
      "resolve": {"axis": {"x": "independent", "y": "independent"}}
    },
    {
      "width": 345, "height": 197,
      "layer": [
        {
          "data": {"name": "series"},
          "transform": [
            {"filter": "datum.panel === 'baby'"},
            {"fold": ["Masse salariale", "Garantie prix"], "as": ["systeme", "valeur"]}
          ],
          "mark": {"type": "line", "strokeWidth": 2.6},
          "encoding": {
            "x": {"field": "periode", "type": "quantitative", "scale": {"domain": [242.5, 407.5], "nice": false, "zero": false}, "axis": {"values": [250, 300, 350, 400], "title": null}},
            "y": {"field": "valeur", "type": "quantitative", "scale": {"domain": [-0.0117, 0.0272], "nice": false, "zero": false}, "axis": {"values": [-0.01, 0, 0.01, 0.02], "format": ".2f", "title": null}},
            "color": {"field": "systeme", "type": "nominal", "scale": {"domain": ["Masse salariale", "Garantie prix"], "range": ["#F8766D", "#00BFC4"]}, "legend": {"title": "Systeme", "orient": "none", "legendX": 289, "legendY": 524, "direction": "vertical"}}
          }
        },
        {
          "data": {"values": [{}]},
          "mark": {"type": "rule", "color": "black", "strokeWidth": 1},
          "encoding": {"x": {"datum": 263, "type": "quantitative", "axis": {"orient": "top", "values": [275, 325, 375], "grid": true, "gridWidth": 0.7, "labels": false, "ticks": false, "domain": false, "title": null}}}
        },
        {
          "data": {"values": [{}]},
          "mark": {"type": "rule", "color": "black", "strokeWidth": 1},
          "encoding": {"y": {"datum": 0, "type": "quantitative", "axis": {"orient": "right", "values": [-0.005, 0.005, 0.015, 0.025], "grid": true, "gridWidth": 0.7, "labels": false, "ticks": false, "domain": false, "title": null}}}
        }
      ],
      "resolve": {"axis": {"x": "independent", "y": "independent"}}
    },
    {
      "width": 345, "height": 24,
      "mark": {"type": "text"},
      "encoding": {"text": {"value": " "}},
      "view": {"stroke": null}
    },
    {
      "width": 345, "height": 24,
      "mark": {"type": "text"},
      "encoding": {"text": {"value": " "}},
      "view": {"stroke": null}
    },
    {
      "width": 345, "height": 26.5,
      "data": {"name": "panels"},
      "transform": [{"filter": "datum.panel === 'vie'"}],
      "mark": {"type": "text", "fontSize": 18, "color": "#1A1A1A"},
      "encoding": {"text": {"field": "titre"}},
      "view": {"fill": "#D9D9D9", "stroke": "#333333"}
    },
    {
      "width": 345, "height": 26.5,
      "data": {"name": "panels"},
      "transform": [{"filter": "datum.panel === 'choc'"}],
      "mark": {"type": "text", "fontSize": 18, "color": "#1A1A1A"},
      "encoding": {"text": {"field": "titre"}},
      "view": {"fill": "#D9D9D9", "stroke": "#333333"}
    },
    {
      "width": 345, "height": 197,
      "layer": [
        {
          "data": {"name": "series"},
          "transform": [
            {"filter": "datum.panel === 'vie'"},
            {"fold": ["Masse salariale", "Garantie prix"], "as": ["systeme", "valeur"]}
          ],
          "mark": {"type": "line", "strokeWidth": 2.6},
          "encoding": {
            "x": {"field": "periode", "type": "quantitative", "scale": {"domain": [242.5, 407.5], "nice": false, "zero": false}, "axis": {"values": [250, 300, 350, 400], "title": "Periode", "titleX": 365, "titleY": 17, "titleAlign": "center", "titleBaseline": "top"}},
            "y": {"field": "valeur", "type": "quantitative", "scale": {"domain": [-0.00275, 0.01375], "nice": false, "zero": false}, "axis": {"values": [0, 0.005, 0.01], "format": ".3f", "title": null}},
            "color": {"field": "systeme", "type": "nominal", "scale": {"domain": ["Masse salariale", "Garantie prix"], "range": ["#F8766D", "#00BFC4"]}, "legend": {"title": "Systeme", "orient": "none", "legendX": 289, "legendY": 524, "direction": "vertical"}}
          }
        },
        {
          "data": {"values": [{}]},
          "mark": {"type": "rule", "color": "black", "strokeWidth": 1},
          "encoding": {"x": {"datum": 263, "type": "quantitative", "axis": {"orient": "top", "values": [275, 325, 375], "grid": true, "gridWidth": 0.7, "labels": false, "ticks": false, "domain": false, "title": null}}}
        },
        {
          "data": {"values": [{}]},
          "mark": {"type": "rule", "color": "black", "strokeWidth": 1},
          "encoding": {"y": {"datum": 0, "type": "quantitative", "axis": {"orient": "right", "values": [-0.0025, 0.0025, 0.0075, 0.0125], "grid": true, "gridWidth": 0.7, "labels": false, "ticks": false, "domain": false, "title": null}}}
        }
      ],
      "resolve": {"axis": {"x": "independent", "y": "independent"}}
    },
    {
      "width": 345, "height": 197,
      "layer": [
        {
          "data": {"name": "series"},
          "transform": [
            {"filter": "datum.panel === 'choc'"},
            {"fold": ["Masse salariale", "Garantie prix"], "as": ["systeme", "valeur"]}
          ],
          "mark": {"type": "line", "strokeWidth": 2.6},
          "encoding": {
            "x": {"field": "periode", "type": "quantitative", "scale": {"domain": [242.5, 407.5], "nice": false, "zero": false}, "axis": {"values": [250, 300, 350, 400], "title": null}},
            "y": {"field": "valeur", "type": "quantitative", "scale": {"domain": [-0.000415, 0.00872], "nice": false, "zero": false}, "axis": {"values": [0, 0.002, 0.004, 0.006, 0.008], "format": ".3f", "title": null}},
            "color": {"field": "systeme", "type": "nominal", "scale": {"domain": ["Masse salariale", "Garantie prix"], "range": ["#F8766D", "#00BFC4"]}, "legend": {"title": "Systeme", "orient": "none", "legendX": 289, "legendY": 524, "direction": "vertical"}}
          }
        },
        {
          "data": {"values": [{}]},
          "mark": {"type": "rule", "color": "black", "strokeWidth": 1},
          "encoding": {"x": {"datum": 263, "type": "quantitative", "axis": {"orient": "top", "values": [275, 325, 375], "grid": true, "gridWidth": 0.7, "labels": false, "ticks": false, "domain": false, "title": null}}}
        },
        {
          "data": {"values": [{}]},
          "mark": {"type": "rule", "color": "black", "strokeWidth": 1},
          "encoding": {"y": {"datum": 0, "type": "quantitative", "axis": {"orient": "right", "values": [0.001, 0.003, 0.005, 0.007], "grid": true, "gridWidth": 0.7, "labels": false, "ticks": false, "domain": false, "title": null}}}
        }
      ],
      "resolve": {"axis": {"x": "independent", "y": "independent"}}
    }
  ],
  "config": {
    "font": "Liberation Sans",
    "view": {"stroke": "#333333", "strokeWidth": 1.1},
    "axis": {
      "domain": false,
      "labelFont": "Liberation Sans",
      "labelFontSize": 9.8,
      "labelColor": "#4D4D4D",
      "labelPadding": 2,
      "tickColor": "#333333",
      "tickSize": 3,
      "tickWidth": 1,
      "grid": true,
      "gridColor": "#EBEBEB",
      "gridWidth": 1.1,
      "titleFont": "Liberation Sans",
      "titleFontSize": 12.5,
      "titleFontWeight": "normal",
      "titleColor": "#000000"
    },
    "legend": {
      "titleFont": "Liberation Sans",
      "titleFontSize": 13,
      "titleFontWeight": "normal",
      "titleColor": "#000000",
      "labelFont": "Liberation Sans",
      "labelFontSize": 18,
      "labelColor": "#000000",
      "symbolType": "stroke",
      "symbolStrokeWidth": 3.5,
      "symbolSize": 260,
      "rowPadding": 0,
      "titlePadding": 8,
      "labelOffset": 9
    }
  }
}
